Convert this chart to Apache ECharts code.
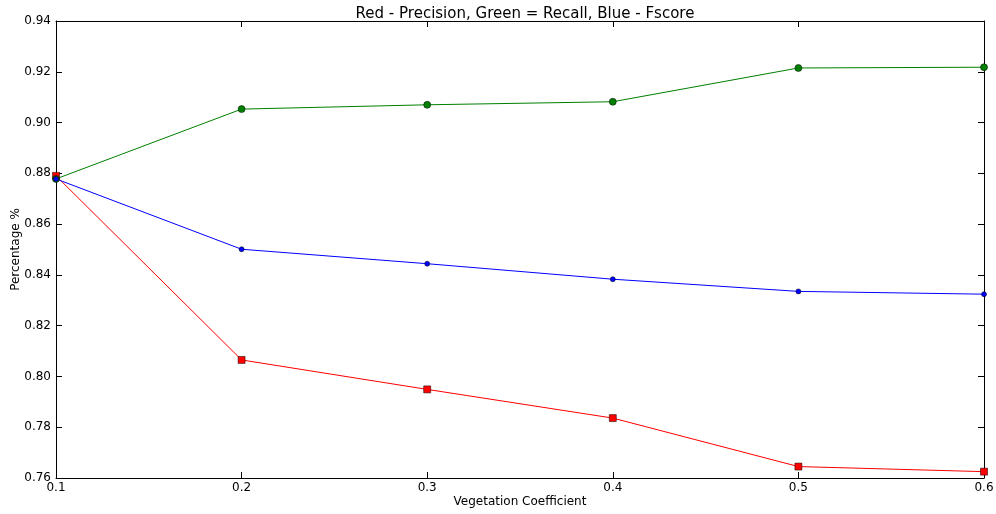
<!DOCTYPE html>
<html>
<head>
<meta charset="utf-8">
<script src="https://cdn.jsdelivr.net/npm/echarts@6/dist/echarts.min.js"></script>
<style>
  html, body { margin: 0; padding: 0; background: #fff; }
  #chart { width: 996px; height: 514px; }
</style>
</head>
<body>
<div id="chart"></div>
<script>
// Vegetation coefficient sweep and resulting scores
const coefficients = [0.1, 0.2, 0.3, 0.4, 0.5, 0.6];
const precision = [0.879, 0.8065, 0.7949, 0.7836, 0.7645, 0.7625];
const recall = [0.8778, 0.9053, 0.907, 0.9082, 0.9215, 0.9218];
const fscore = [0.8778, 0.8501, 0.8444, 0.8383, 0.8335, 0.8324];

const FONT = 'DejaVu Sans';
const pairs = (ys) => coefficients.map((x, i) => [x, ys[i]]);

const tickStyle = { inside: true, length: 6, lineStyle: { color: '#000', width: 1 } };
const frameLine = { show: true, onZero: false, lineStyle: { color: '#000', width: 1 } };

function lineSeries(name, ys, color, symbol, size) {
  return {
    name, type: 'line', data: pairs(ys),
    symbol, symbolSize: size,
    lineStyle: { color, width: 1 },
    itemStyle: { color, borderColor: '#000', borderWidth: 0.5 },
    emphasis: { disabled: true },
    animation: false, z: 3
  };
}

const chart = echarts.init(document.getElementById('chart'), null, { renderer: 'canvas' });
chart.setOption({
  backgroundColor: '#fff',
  animation: false,
  title: {
    text: 'Red - Precision, Green = Recall, Blue - Fscore',
    left: 520, top: 2, textAlign: 'center',
    textStyle: { fontFamily: FONT, fontSize: 15, fontWeight: 'normal', color: '#000' }
  },
  grid: { left: 56, right: 12, top: 21, bottom: 36, containLabel: false, outerBoundsMode: 'none' },
  xAxis: [
    {
      type: 'value', min: 0.1, max: 0.6, interval: 0.1, position: 'bottom',
      name: 'Vegetation Coefficient', nameLocation: 'middle', nameGap: 18,
      nameMoveOverlap: false,
      nameTextStyle: { fontFamily: FONT, fontSize: 12, color: '#000' },
      axisLine: frameLine, axisTick: tickStyle,
      axisLabel: { fontFamily: FONT, fontSize: 12, color: '#000', margin: 4,
        formatter: (v) => v.toFixed(1) },
      splitLine: { show: false }
    },
    {
      type: 'value', min: 0.1, max: 0.6, interval: 0.1, position: 'top',
      axisLine: frameLine, axisTick: tickStyle,
      axisLabel: { show: false }, splitLine: { show: false }
    }
  ],
  yAxis: [
    {
      type: 'value', min: 0.76, max: 0.94, interval: 0.02, position: 'left',
      name: 'Percentage %', nameLocation: 'middle', nameGap: 34,
      nameMoveOverlap: false,
      nameTextStyle: { fontFamily: FONT, fontSize: 12, color: '#000' },
      axisLine: frameLine, axisTick: tickStyle,
      axisLabel: { fontFamily: FONT, fontSize: 12, color: '#000', margin: 5,
        formatter: (v) => v.toFixed(2) },
      splitLine: { show: false }
    },
    {
      type: 'value', min: 0.76, max: 0.94, interval: 0.02, position: 'right',
      axisLine: frameLine, axisTick: tickStyle,
      axisLabel: { show: false }, splitLine: { show: false }
    }
  ],
  series: [
    lineSeries('Precision', precision, '#ff0000', 'rect', 7),
    lineSeries('Recall', recall, '#008000', 'circle', 7),
    lineSeries('Fscore', fscore, '#0000ff', 'circle', 5)
  ]
});
</script>
</body>
</html>
